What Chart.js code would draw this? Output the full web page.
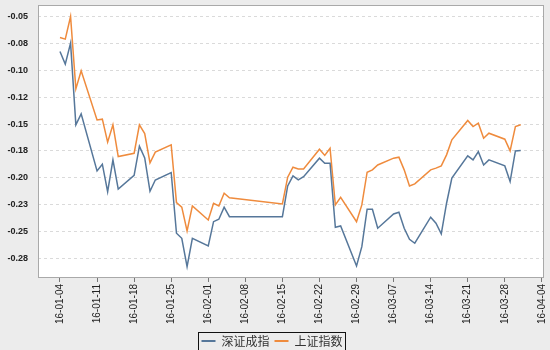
<!DOCTYPE html>
<html>
<head>
<meta charset="utf-8">
<script src="https://cdn.jsdelivr.net/npm/chart.js@4.4.1/dist/chart.umd.min.js"></script>
<style>
  html, body { margin: 0; padding: 0; background: #ececec; }
  #wrap { width: 550px; height: 350px; }
  canvas { display: block; }
</style>
</head>
<body>
<div id="wrap"><canvas id="c" width="550" height="350"></canvas></div>
<script>
// Trading days, Jan 4 - Mar 31 2016
const tradeDates = [
  '2016-01-04','2016-01-05','2016-01-06','2016-01-07','2016-01-08',
  '2016-01-11','2016-01-12','2016-01-13','2016-01-14','2016-01-15',
  '2016-01-18','2016-01-19','2016-01-20','2016-01-21','2016-01-22',
  '2016-01-25','2016-01-26','2016-01-27','2016-01-28','2016-01-29',
  '2016-02-01','2016-02-02','2016-02-03','2016-02-04','2016-02-05',
  '2016-02-15','2016-02-16','2016-02-17','2016-02-18','2016-02-19',
  '2016-02-22','2016-02-23','2016-02-24','2016-02-25','2016-02-26',
  '2016-02-29','2016-03-01','2016-03-02','2016-03-03','2016-03-04',
  '2016-03-07','2016-03-08','2016-03-09','2016-03-10','2016-03-11',
  '2016-03-14','2016-03-15','2016-03-16','2016-03-17','2016-03-18',
  '2016-03-21','2016-03-22','2016-03-23','2016-03-24','2016-03-25',
  '2016-03-28','2016-03-29','2016-03-30','2016-03-31'
];

// 深证成指
const shenzhen = [
  -0.0824, -0.0941, -0.0745, -0.1507, -0.1405,
  -0.1937, -0.1874, -0.2130, -0.1834, -0.2107,
  -0.1978, -0.1706, -0.1815, -0.2127, -0.2021,
  -0.1952, -0.2518, -0.2565, -0.2829, -0.2565,
  -0.2636, -0.2410, -0.2387, -0.2275, -0.2363,
  -0.2363, -0.2077, -0.1983, -0.2021, -0.1990,
  -0.1818, -0.1865, -0.1865, -0.2462, -0.2450,
  -0.2823, -0.2643, -0.2294, -0.2294, -0.2471,
  -0.2338, -0.2322, -0.2471, -0.2574, -0.2611,
  -0.2368, -0.2424, -0.2524, -0.2238, -0.2004,
  -0.1797, -0.1834, -0.1757, -0.1881, -0.1834,
  -0.1890, -0.2036, -0.1750, -0.1747
];

// 上证指数
const shanghai = [
  -0.0693, -0.0708, -0.0497, -0.1172, -0.1004,
  -0.1461, -0.1454, -0.1669, -0.1507, -0.1803,
  -0.1772, -0.1507, -0.1588, -0.1862, -0.1762,
  -0.1694, -0.2232, -0.2275, -0.2496, -0.2263,
  -0.2394, -0.2238, -0.2263, -0.2145, -0.2187,
  -0.2244, -0.1995, -0.1902, -0.1918, -0.1918,
  -0.1734, -0.1792, -0.1725, -0.2254, -0.2182,
  -0.2410, -0.2254, -0.1949, -0.1927, -0.1881,
  -0.1818, -0.1809, -0.1927, -0.2077, -0.2058,
  -0.1927, -0.1911, -0.1890, -0.1787, -0.1647,
  -0.1467, -0.1523, -0.1492, -0.1632, -0.1585,
  -0.1641, -0.1750, -0.1523, -0.1507
];

const seriesNames = ['深证成指', '上证指数'];

// Weekly date ticks
const xTickDates = [
  '2016-01-04','2016-01-11','2016-01-18','2016-01-25','2016-02-01',
  '2016-02-08','2016-02-15','2016-02-22','2016-02-29','2016-03-07',
  '2016-03-14','2016-03-21','2016-03-28','2016-04-04'
];
const xTickLabels = [
  '16-01-04','16-01-11','16-01-18','16-01-25','16-02-01',
  '16-02-08','16-02-15','16-02-22','16-02-29','16-03-07',
  '16-03-14','16-03-21','16-03-28','16-04-04'
];

const yTickValues = [-0.05, -0.075, -0.10, -0.125, -0.15, -0.175, -0.20, -0.225, -0.25, -0.275];
const yTickLabels = ['-0.05', '-0.08', '-0.10', '-0.12', '-0.15', '-0.18', '-0.20', '-0.23', '-0.25', '-0.28'];

// Days elapsed since the first trading day
const baseTime = Date.parse('2016-01-04T00:00:00Z');
function dayIndex(d) {
  return (Date.parse(d + 'T00:00:00Z') - baseTime) / 86400000;
}

function toPoints(values) {
  return tradeDates.map((d, i) => ({ x: dayIndex(d), y: values[i] }));
}

const BLUE = '#56779a';
const ORANGE = '#ef8b3d';

// White plot panel with a grey frame
const plotFrame = {
  id: 'plotFrame',
  beforeDraw(chart) {
    const { ctx, chartArea: a } = chart;
    ctx.save();
    ctx.fillStyle = '#ffffff';
    ctx.fillRect(a.left, a.top, a.right - a.left, a.bottom - a.top);
    ctx.restore();
  },
  afterDraw(chart) {
    const { ctx, chartArea: a } = chart;
    ctx.save();
    ctx.strokeStyle = '#a9a9a9';
    ctx.lineWidth = 1;
    ctx.strokeRect(a.left + 0.5, a.top + 0.5, a.right - a.left - 1, a.bottom - a.top - 1);
    ctx.restore();
  }
};

// Black box around the legend entries
const legendFrame = {
  id: 'legendFrame',
  afterDraw(chart) {
    const boxes = chart.legend && chart.legend.legendHitBoxes;
    if (!boxes || !boxes.length) return;
    const first = boxes[0], last = boxes[boxes.length - 1];
    const left = first.left - 3;
    const right = last.left + last.width + 3;
    const mid = first.top + first.height / 2;
    const ctx = chart.ctx;
    ctx.save();
    ctx.strokeStyle = '#111111';
    ctx.lineWidth = 1;
    ctx.strokeRect(Math.round(left) + 0.5, Math.round(mid - 9) + 0.5, Math.round(right - left), 18);
    ctx.restore();
  }
};

new Chart(document.getElementById('c'), {
  type: 'line',
  data: {
    datasets: [
      {
        label: seriesNames[0],
        data: toPoints(shenzhen),
        borderColor: BLUE,
        backgroundColor: BLUE,
        borderWidth: 1.5,
        pointRadius: 0,
        tension: 0
      },
      {
        label: seriesNames[1],
        data: toPoints(shanghai),
        borderColor: ORANGE,
        backgroundColor: ORANGE,
        borderWidth: 1.5,
        pointRadius: 0,
        tension: 0
      }
    ]
  },
  options: {
    responsive: false,
    animation: false,
    devicePixelRatio: 1,
    layout: { padding: { top: 5, left: 0, right: 6, bottom: -7 } },
    plugins: {
      legend: {
        position: 'bottom',
        labels: {
          boxWidth: 14,
          boxHeight: 2,
          padding: 5,
          color: '#333333',
          font: { family: '"Noto Sans CJK SC", sans-serif', size: 12 },
          generateLabels(chart) {
            const items = Chart.defaults.plugins.legend.labels.generateLabels(chart);
            items.forEach(it => { it.lineWidth = 0; });
            return items;
          }
        }
      },
      tooltip: { enabled: false }
    },
    scales: {
      x: {
        type: 'linear',
        min: -4.15,
        max: 91.4,
        afterBuildTicks(scale) {
          scale.ticks = xTickDates.map(d => ({ value: dayIndex(d) }));
        },
        afterFit(scale) {
          scale.height = 52;
          scale.paddingLeft = 0;
          scale.paddingRight = 0;
        },
        ticks: {
          autoSkip: false,
          minRotation: 90,
          maxRotation: 90,
          padding: 2,
          color: '#222222',
          font: { family: 'Arial, "Liberation Sans", sans-serif', size: 10 },
          callback: (v, i) => xTickLabels[i]
        },
        grid: {
          drawOnChartArea: false,
          drawTicks: true,
          tickLength: 4,
          color: '#777777'
        },
        border: { display: false }
      },
      y: {
        type: 'linear',
        min: -0.2935,
        max: -0.039,
        afterBuildTicks(scale) {
          scale.ticks = yTickValues.map(v => ({ value: v }));
        },
        afterFit(scale) {
          scale.width = 38;
          scale.paddingTop = 0;
          scale.paddingBottom = 0;
        },
        ticks: {
          padding: 10,
          color: '#222222',
          font: { family: 'Arial, "Liberation Sans", sans-serif', size: 9, weight: 'bold' },
          callback: (v, i) => yTickLabels[i]
        },
        grid: {
          drawTicks: false,
          color: '#dadada',
          lineWidth: 1
        },
        border: { display: false, dash: [3, 3] }
      }
    }
  },
  plugins: [plotFrame, legendFrame]
});
</script>
</body>
</html>
